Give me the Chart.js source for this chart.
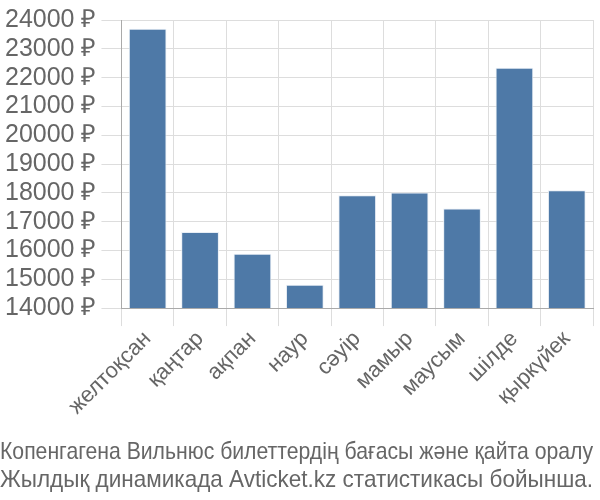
<!DOCTYPE html>
<html>
<head>
<meta charset="utf-8">
<script src="https://cdn.jsdelivr.net/npm/chart.js@4"></script>
<style>
  body { margin: 0; background: #fff; }
  #wrap { width: 600px; height: 500px; }
</style>
</head>
<body>
<div id="wrap"><canvas id="chart"></canvas></div>
<script>
// months and prices (rub)
const months = ["желтоқсан", "қаңтар", "ақпан", "наур", "сәуір", "мамыр", "маусым", "шілде", "қыркүйек"];
const prices = [23700, 16640, 15890, 14810, 17920, 18010, 17460, 22340, 18090];
const yMin = 14000;
const yMax = 24000;
const titleLines = [
  "Копенгагена Вильнюс билеттердің бағасы және қайта оралу",
  "Жылдық динамикада Avticket.kz статистикасы бойынша."
];

Chart.defaults.font.family = "'Liberation Sans', Arial, sans-serif";
Chart.defaults.color = "#666";

new Chart(document.getElementById("chart"), {
  type: "bar",
  data: {
    labels: months,
    datasets: [{
      data: prices,
      backgroundColor: "#4e79a7",
      borderColor: "#e8eef5",
      borderWidth: 1,
      categoryPercentage: 0.8,
      barPercentage: 0.9
    }]
  },
  options: {
    responsive: true,
    maintainAspectRatio: false,
    animation: false,
    layout: { padding: { right: 7, top: -6 } },
    plugins: {
      legend: { display: false },
      tooltip: { enabled: false },
      title: {
        display: true,
        position: "bottom",
        text: titleLines,
        font: { size: 24, weight: "normal", lineHeight: 1.15 },
        color: "#666",
        padding: { top: 19, bottom: 6 }
      }
    },
    scales: {
      x: {
        grid: { color: "#ddd", tickLength: 18, offset: true },
        border: { color: "#aaa" },
        ticks: {
          font: { size: 22 },
          padding: 0,
          autoSkip: false,
          minRotation: 45,
          maxRotation: 45
        }
      },
      y: {
        min: yMin,
        max: yMax,
        grid: { color: "#ddd", tickLength: 20 },
        border: { color: "#aaa" },
        ticks: {
          stepSize: 1000,
          autoSkip: false,
          padding: 5,
          font: { size: 25 },
          callback: v => v + " ₽"
        }
      }
    }
  }
});
</script>
</body>
</html>
